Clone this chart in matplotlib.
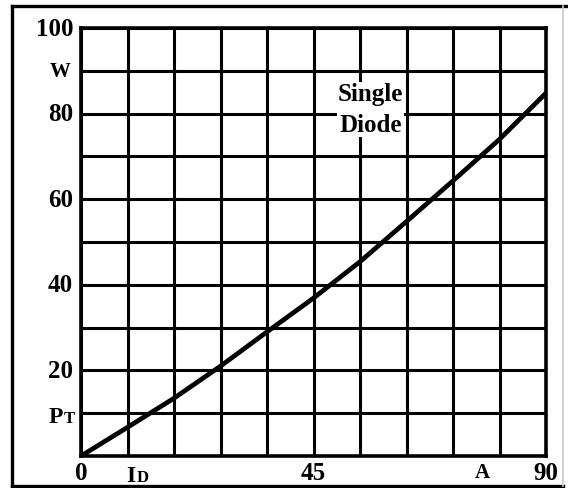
import numpy as np
import matplotlib.pyplot as plt
from matplotlib.lines import Line2D

plt.rcParams['font.family'] = 'Liberation Serif'

# forward current (A) vs. power dissipation (W)
current = [0, 9, 18, 27, 36, 45, 54, 63, 72, 81, 90]
power = [0, 6.7, 13.5, 21.0, 29.0, 36.9, 45.4, 54.8, 64.3, 74.0, 84.8]

y_ticks = [20, 40, 60, 80, 100]
y_ticklabels = ['20', '40', '60', '80', '100']
x_ticks = [0, 45, 90]
x_ticklabels = ['0', '45', '90']

FS = 18
fig = plt.figure(figsize=(5.68, 4.89), dpi=100)
ax = fig.add_axes([81 / 568, 32 / 489, 465 / 568, 428 / 489])

ax.plot(current, power, color='black', linewidth=3.4, solid_capstyle='round',
        solid_joinstyle='round', zorder=3)

ax.set_xlim(0, 90)
ax.set_ylim(0, 100)
ax.set_xticks(np.arange(0, 91, 9))
ax.set_yticks(np.arange(0, 101, 10))
ax.grid(True, color='black', linewidth=2.2)
ax.tick_params(length=0, labelleft=False, labelbottom=False)
for s in ax.spines.values():
    s.set_linewidth(2.6)

# value labels
for v, lab in zip(y_ticks, y_ticklabels):
    ax.text(-1.5, v, lab, ha='right', va='center', fontsize=FS, fontweight='bold')
for v, lab in zip(x_ticks, x_ticklabels):
    ax.text(v, -3.8, lab, ha='center', va='center', fontsize=FS, fontweight='bold')

# unit / symbol labels
ax.text(-4.0, 90, 'W', ha='center', va='center', fontsize=FS - 3, fontweight='bold')
ax.text(77.6, -3.8, 'A', ha='center', va='center', fontsize=FS - 3, fontweight='bold')

def sub_label(x, y, main, small):
    t = ax.text(x, y, main, ha='left', va='baseline', fontsize=FS - 1, fontweight='bold')
    fig.canvas.draw()
    bb = t.get_window_extent().transformed(ax.transData.inverted())
    ax.text(bb.x1 + 0.2, y, small, ha='left', va='baseline', fontsize=FS - 6, fontweight='bold')

sub_label(-6.3, 8.0, 'P', 'T')
sub_label(8.8, -5.8, 'I', 'D')

ax.text(56, 81, 'Single\nDiode', ha='center', va='center', fontsize=FS,
        fontweight='bold', linespacing=1.45, zorder=4,
        bbox=dict(facecolor='white', edgecolor='none', pad=0.5))

# outer frame
fig.add_artist(Line2D([12 / 568, 12 / 568], [2 / 489, 482 / 489], color='black', linewidth=2.4))
fig.add_artist(Line2D([12 / 568, 567 / 568], [482 / 489, 482 / 489], color='black', linewidth=2.4))
fig.add_artist(Line2D([12 / 568, 563 / 568], [2 / 489, 2 / 489], color='black', linewidth=2.4))
fig.add_artist(Line2D([563 / 568, 563 / 568], [2 / 489, 482 / 489], color='#c8c8c8', linewidth=1.2))

fig.savefig('out.png', dpi=100)
